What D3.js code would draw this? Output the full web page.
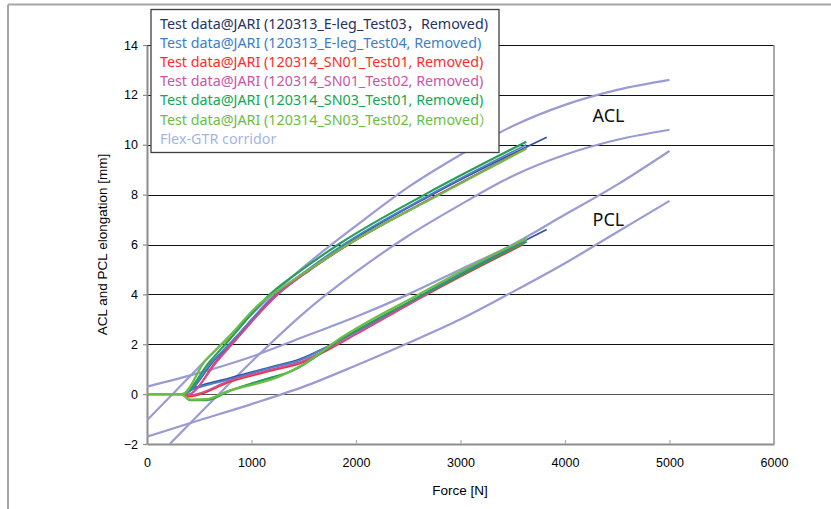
<!DOCTYPE html>
<html><head><meta charset="utf-8">
<script src="https://cdn.jsdelivr.net/npm/d3@7"></script>
<style>body{margin:0;background:#fff}svg{display:block}</style>
</head><body><svg id="c" width="831" height="509"></svg>
<script>
// ---------- data ----------
const forceTicks = [0,1000,2000,3000,4000,5000,6000];
const elongTicks = [-2,0,2,4,6,8,10,12,14];
const xTitle = "Force [N]";
const yTitle = "ACL and PCL elongation [mm]";
const ligamentLabels = ["ACL","PCL"];

const seriesNames = [
  "Test data@JARI (120313_E-leg_Test03，Removed)",
  "Test data@JARI (120313_E-leg_Test04, Removed)",
  "Test data@JARI (120314_SN01_Test01, Removed)",
  "Test data@JARI (120314_SN01_Test02, Removed)",
  "Test data@JARI (120314_SN03_Test01, Removed)",
  "Test data@JARI (120314_SN03_Test02, Removed）"
];
const corridorName = "Flex-GTR corridor";

// ACL elongation [Force N, mm]
const aclTest03 = [[0,0],[345,0],[645,1.36],[790,2.0],[1240,4.0],[1540,4.95],[1900,6.0],[2730,8.0],[3825,10.3]];
const aclTest04 = [[0,0],[345,0],[635,1.36],[785,2.0],[1230,4.0],[1530,4.97],[1880,6.0],[2710,8.0],[3630,10.0]];
const aclSN01T01 = [[0,0],[340,0],[380,-0.05],[670,1.36],[810,2.0],[1250,4.0],[1550,4.95],[1930,6.0],[2790,8.0],[3600,9.8]];
const aclSN01T02 = [[0,0],[340,0],[380,-0.02],[682,1.36],[815,2.0],[1255,4.0],[1550,4.95],[1925,6.0],[2785,8.0],[3630,9.85]];
const aclSN03T01 = [[0,0],[335,0],[600,1.3],[760,2.05],[1190,4.05],[1480,4.98],[1850,6.05],[2680,8.05],[3630,10.12]];
const aclSN03T02 = [[0,0],[335,0],[550,1.3],[740,2.1],[1100,3.7],[1200,4.0],[1500,4.85],[1920,6.0],[2800,8.0],[3630,9.85]];

// PCL elongation [Force N, mm]
const pclTest03 = [[0,0],[340,0],[380,0.1],[800,0.65],[1200,1.1],[1464,1.4],[1700,1.85],[2000,2.5],[2650,4.0],[3200,5.25],[3825,6.6]];
const pclTest04 = [[0,0],[340,0],[380,0.08],[800,0.6],[1200,1.07],[1464,1.36],[1700,1.85],[2000,2.5],[2640,4.0],[3200,5.3],[3630,6.2]];
const pclSN01T01 = [[0,0],[340,0],[400,-0.1],[800,0.5],[1200,0.95],[1464,1.23],[1700,1.7],[2000,2.4],[2680,4.0],[3200,5.15],[3600,6.0]];
const pclSN01T02 = [[0,0],[340,0],[400,-0.05],[800,0.55],[1200,1.0],[1464,1.28],[1700,1.75],[2000,2.42],[2670,4.0],[3200,5.2],[3620,6.1]];
const pclSN03T01 = [[0,0],[330,0],[411,-0.24],[571,-0.24],[800,0.15],[1100,0.55],[1400,0.96],[1847,2.17],[2650,4.0],[3200,5.2],[3633,6.11]];
const pclSN03T02 = [[0,0],[330,0],[411,-0.22],[571,-0.2],[763,0.1],[1273,0.72],[1500,1.2],[1847,2.23],[2600,4.0],[3200,5.35],[3633,6.24]];

// Flex-GTR corridors [Force N, mm]
const aclUpper = [[0,-1.05],[500,1.1],[1000,3.2],[1500,5.1],[2000,6.75],[2500,8.3],[3000,9.6],[3500,10.75],[4000,11.6],[4500,12.2],[5000,12.6]];
const aclLower = [[218,-2],[500,-0.8],[1000,1.3],[1500,3.25],[2000,4.9],[2500,6.35],[3000,7.6],[3500,8.75],[4000,9.6],[4500,10.2],[5000,10.6]];
const pclUpper = [[0,0.3],[500,0.85],[1000,1.5],[1500,2.3],[2000,3.1],[2500,4.0],[3000,5.0],[3500,6.0],[4000,7.2],[4500,8.4],[5000,9.75]];
const pclLower = [[0,-1.71],[500,-1.05],[1000,-0.4],[1500,0.3],[2000,1.15],[2500,2.05],[3000,3.0],[3500,4.1],[4000,5.25],[4500,6.5],[5000,7.75]];

const aclSeries = [aclTest03, aclTest04, aclSN01T01, aclSN01T02, aclSN03T01, aclSN03T02];
const pclSeries = [pclTest03, pclTest04, pclSN01T01, pclSN01T02, pclSN03T01, pclSN03T02];
const corridors = [aclUpper, aclLower, pclUpper, pclLower];

// ---------- styles ----------
const lineColors = ["#3553a3","#4a84c8","#ff2a2a","#c8509e","#2a9c5c","#6cbd45"];
const legendColors = ["#26325f","#3b7ec8","#ff2b2b","#c856a6","#12a850","#6cbd45"];
const corridorColor = "#9b9bd3";
const corridorLegendColor = "#a4b6e2";

const svg = d3.select("#c");
const x = d3.scaleLinear().domain([0,6000]).range([147,774]);
const y = d3.scaleLinear().domain([-2,14]).range([444,45]);

// outer frame
svg.append("line").attr("x1",8).attr("x2",831).attr("y1",4.5).attr("y2",4.5).attr("stroke","#a6a6a6").attr("stroke-width",2);
svg.append("line").attr("x1",8).attr("x2",8).attr("y1",4.5).attr("y2",509).attr("stroke","#a6a6a6").attr("stroke-width",2);

// gridlines
svg.append("g").selectAll("line").data(elongTicks.filter(d=>d>-2)).join("line")
  .attr("x1",x(0)).attr("x2",x(6000)).attr("y1",d=>Math.round(y(d))+0.5).attr("y2",d=>Math.round(y(d))+0.5)
  .attr("stroke",d=>d===0?"#555":"#111").attr("stroke-width",1.1);

// right border
svg.append("line").attr("x1",x(6000)).attr("x2",x(6000)).attr("y1",y(14)).attr("y2",y(-2)).attr("stroke","#8c8c8c").attr("stroke-width",1.5);

// axes
const xAxis = d3.axisBottom(x).tickValues(forceTicks).tickSizeInner(-4).tickSizeOuter(0).tickPadding(14).tickFormat(d3.format("d"));
const gx = svg.append("g").attr("transform",`translate(0,${y(-2)})`).call(xAxis);
const yAxis = d3.axisLeft(y).tickValues(elongTicks).tickSizeInner(4).tickSizeOuter(0).tickPadding(5).tickFormat(d3.format("d"));
const gy = svg.append("g").attr("transform",`translate(${x(0)},0)`).call(yAxis);
[gx,gy].forEach(g=>{
  g.select(".domain").attr("stroke","#8c8c8c").attr("stroke-width",2);
  g.selectAll(".tick line").attr("stroke","#8c8c8c").attr("stroke-width",1.2);
  g.selectAll("text").attr("font-family","'Liberation Sans',Arial,sans-serif").attr("font-size","12.5px").attr("fill","#000");
});
gx.selectAll(".tick line").attr("stroke","#aaa");

// axis titles
svg.append("text").attr("x",460).attr("y",495).attr("text-anchor","middle")
  .attr("font-family","'Liberation Sans',Arial,sans-serif").attr("font-size","13.5px").text(xTitle);
svg.append("text").attr("transform","translate(107,244.5) rotate(-90)").attr("text-anchor","middle")
  .attr("font-family","'Liberation Sans',Arial,sans-serif").attr("font-size","13.5px").text(yTitle);

// corridors
const corLine = d3.line().x(d=>x(d[0])).y(d=>y(d[1])).curve(d3.curveMonotoneX);
svg.append("g").attr("clip-path","url(#clip)").selectAll("path").data(corridors).join("path")
  .attr("d",corLine).attr("fill","none").attr("stroke",corridorColor).attr("stroke-width",2.2);
svg.append("clipPath").attr("id","clip").append("rect").attr("x",x(0)).attr("y",y(14)).attr("width",x(6000)-x(0)).attr("height",y(-2)-y(14));

// data curves
const dataLine = d3.line().x(d=>x(d[0])).y(d=>y(d[1])).curve(d3.curveMonotoneX);
const gd = svg.append("g");
seriesNames.forEach((n,i)=>{
  [aclSeries[i], pclSeries[i]].forEach(s=>{
    gd.append("path").attr("d",dataLine(s)).attr("fill","none").attr("stroke",lineColors[i])
      .attr("stroke-width",i>=4?2.2:1.8).attr("stroke-linejoin","round");
  });
});

// ACL / PCL labels
svg.append("text").attr("x",592.5).attr("y",121.5).attr("font-family","'Noto Sans',sans-serif").attr("font-size","18px").attr("fill","#111").text(ligamentLabels[0]);
svg.append("text").attr("x",592.5).attr("y",225.5).attr("font-family","'Noto Sans',sans-serif").attr("font-size","18px").attr("fill","#111").text(ligamentLabels[1]);

// legend
const lg = svg.append("g");
lg.append("rect").attr("x",151).attr("y",9.5).attr("width",348).attr("height",143).attr("fill","#fff").attr("stroke","#404040").attr("stroke-width",1.3);
const legendItems = seriesNames.map((n,i)=>({n,c:legendColors[i]})).concat([{n:corridorName,c:corridorLegendColor}]);
const lt = lg.selectAll("text").data(legendItems).join("text")
  .attr("x",160).attr("y",(d,i)=>29+i*19.1)
  .attr("font-family","'Noto Sans','Noto Sans CJK JP',sans-serif").attr("font-size","14px")
  .attr("fill",d=>d.c).text(d=>d.n);
const w0 = lt.nodes()[0].getComputedTextLength();
const f = 328/w0;
lt.each(function(){ const w=this.getComputedTextLength(); d3.select(this).attr("textLength",w*f).attr("lengthAdjust","spacingAndGlyphs"); });
</script></body></html>
